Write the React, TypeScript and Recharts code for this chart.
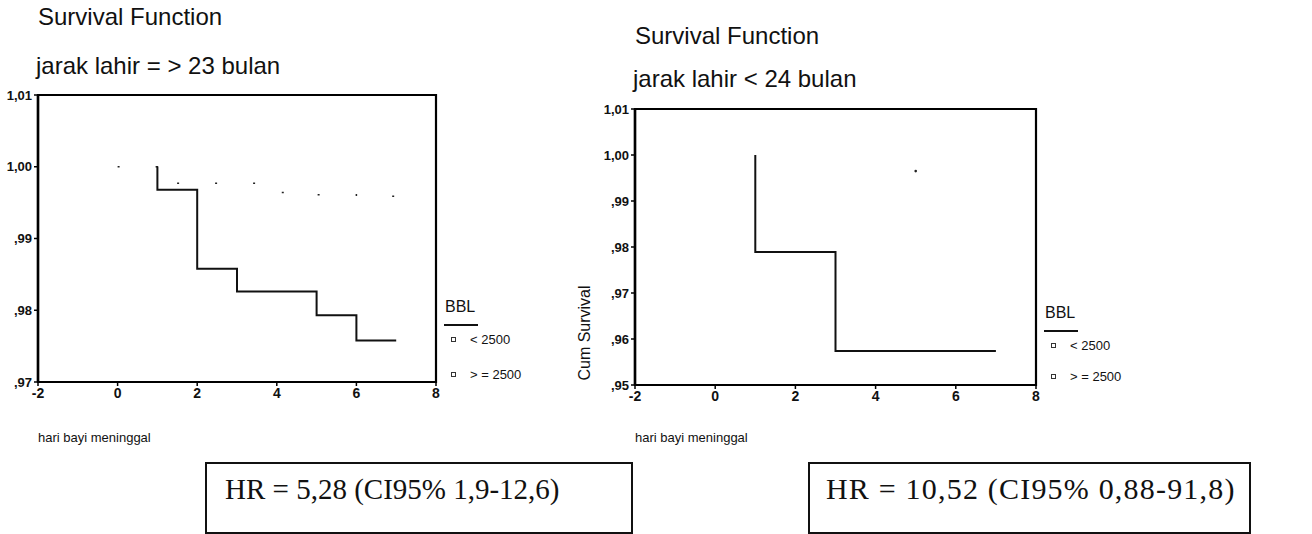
import React from "react";
import { ComposedChart, Line, XAxis, YAxis, ReferenceArea } from "recharts";

// shared x axis (hari)
const xTicks = [-2, 0, 2, 4, 6, 8];

// jarak lahir = > 23 bulan
const leftYTicks = [0.97, 0.98, 0.99, 1.0, 1.01];
const leftLowTime = [1, 1, 2, 3, 5, 6, 7];
const leftLowSurv = [1.0, 0.9968, 0.9858, 0.9826, 0.9793, 0.9758, 0.9758];
const leftHighTime = [0, 1, 4, 5, 6, 7];
const leftHighSurv = [1.0, 0.9977, 0.9964, 0.9961, 0.9959, 0.9957];

// jarak lahir < 24 bulan
const rightYTicks = [0.95, 0.96, 0.97, 0.98, 0.99, 1.0, 1.01];
const rightLowTime = [1, 1, 3, 7];
const rightLowSurv = [1.0, 0.9789, 0.9574, 0.9574];
const rightHighTime = [5];
const rightHighSurv = [0.9965];

const groups = ["< 2500", "> = 2500"];

const sans = '"Liberation Sans", Arial, sans-serif';
const serif = '"Liberation Serif", "Times New Roman", serif';

const toRows = (t: number[], s: number[]) => t.map((v, i) => ({ t: v, s: s[i] }));

const fmtY = (v: number) => {
  const s = v.toFixed(2).replace(".", ",");
  return s.startsWith("0") ? s.slice(1) : s;
};

function CumLabel(props: any) {
  const vb = props.viewBox || { x: 0, y: 19, width: 75, height: 276 };
  const cx = vb.x + 24;
  const cy = vb.y + vb.height / 2 + 86;
  return (
    <text
      x={cx}
      y={cy}
      transform={`rotate(-90 ${cx} ${cy})`}
      textAnchor="middle"
      dominantBaseline="central"
      fontSize={16}
      fontFamily={sans}
      fill="#111"
    >
      Cum Survival
    </text>
  );
}

type PlotProps = {
  width: number;
  height: number;
  margin: { top: number; right: number; bottom: number; left: number };
  yWidth: number;
  yTicks: number[];
  low: { t: number; s: number }[];
  high: { t: number; s: number }[];
  yLabel?: boolean;
};

function SurvivalPlot({ width, height, margin, yWidth, yTicks, low, high, yLabel }: PlotProps) {
  const yMin = yTicks[0];
  const yMax = yTicks[yTicks.length - 1];
  return (
    <ComposedChart width={width} height={height} margin={margin}>
      <XAxis
        type="number"
        dataKey="t"
        domain={[-2, 8]}
        ticks={xTicks}
        allowDataOverflow
        height={25}
        tickSize={4}
        tickLine={{ stroke: "#000", strokeWidth: 1.5 }}
        axisLine={{ stroke: "#000", strokeWidth: 2 }}
        tick={{ fontSize: 14, fontWeight: 700, fill: "#111", fontFamily: sans }}
      />
      <YAxis
        type="number"
        domain={[yMin, yMax]}
        ticks={yTicks}
        allowDataOverflow
        width={yWidth}
        tickSize={4}
        tickFormatter={fmtY}
        tickLine={{ stroke: "#000", strokeWidth: 1.5 }}
        axisLine={{ stroke: "#000", strokeWidth: 2.5 }}
        tick={{ fontSize: 13, fontWeight: 700, fill: "#111", fontFamily: sans }}
        label={yLabel ? <CumLabel /> : undefined}
      />
      <ReferenceArea x1={-2} x2={8} y1={yMin} y2={yMax} fill="none" stroke="#000" strokeWidth={2.2} />
      <Line
        data={high}
        dataKey="s"
        type="stepAfter"
        stroke={high.length > 1 ? "#222" : "none"}
        strokeWidth={1.5}
        strokeDasharray="2 36"
        dot={high.length > 1 ? false : { r: 1.3, fill: "#222", stroke: "none" }}
        isAnimationActive={false}
      />
      <Line
        data={low}
        dataKey="s"
        type="stepAfter"
        stroke="#111"
        strokeWidth={2}
        dot={false}
        isAnimationActive={false}
      />
    </ComposedChart>
  );
}

const abs = (left: number, top: number, extra: React.CSSProperties = {}): React.CSSProperties => ({
  position: "absolute",
  left,
  top,
  whiteSpace: "nowrap",
  ...extra,
});

function Legend({ left, top, gap }: { left: number; top: number; gap: number }) {
  return (
    <>
      <div style={abs(left, top, { fontSize: 16, lineHeight: "16px", fontFamily: sans, color: "#111" })}>BBL</div>
      <div style={abs(left - 1, top + 25, { width: 34, height: 2, background: "#111" })} />
      {groups.map((g, i) => (
        <React.Fragment key={g}>
          <div
            style={abs(left + 6, top + 38 + i * gap, {
              width: 5,
              height: 5,
              border: "1px solid #333",
              boxSizing: "border-box",
            })}
          />
          <div style={abs(left + 25, top + 34 + i * gap, { fontSize: 13, lineHeight: "13px", fontFamily: sans, color: "#111" })}>
            {g}
          </div>
        </React.Fragment>
      ))}
    </>
  );
}

const titleStyle: React.CSSProperties = { fontSize: 24, lineHeight: "24px", fontFamily: sans, color: "#111" };
const xTitleStyle: React.CSSProperties = { fontSize: 13, lineHeight: "13px", fontFamily: sans, color: "#111" };
const hrStyle: React.CSSProperties = { fontSize: 29, lineHeight: "29px", fontFamily: serif, color: "#111" };

export default function App() {
  return (
    <div style={{ position: "absolute", left: 0, top: 0, width: 1312, height: 534, background: "#fff", overflow: "hidden" }}>
      <div style={abs(0, 80)}>
        <SurvivalPlot
          width={560}
          height={330}
          margin={{ top: 15, right: 124, bottom: 3, left: 0 }}
          yWidth={38}
          yTicks={leftYTicks}
          low={toRows(leftLowTime, leftLowSurv)}
          high={toRows(leftHighTime, leftHighSurv)}
        />
      </div>
      <div style={abs(560, 90)}>
        <SurvivalPlot
          width={752}
          height={325}
          margin={{ top: 19, right: 276, bottom: 5, left: 0 }}
          yWidth={75}
          yTicks={rightYTicks}
          low={toRows(rightLowTime, rightLowSurv)}
          high={toRows(rightHighTime, rightHighSurv)}
          yLabel
        />
      </div>

      <div style={abs(38, 5, titleStyle)}>Survival Function</div>
      <div style={abs(36, 54, titleStyle)}>jarak lahir = &gt; 23 bulan</div>
      <div style={abs(635, 24, titleStyle)}>Survival Function</div>
      <div style={abs(633, 67, titleStyle)}>jarak lahir &lt; 24 bulan</div>

      <div style={abs(38, 431, xTitleStyle)}>hari bayi meninggal</div>
      <div style={abs(635, 431, xTitleStyle)}>hari bayi meninggal</div>

      <Legend left={445} top={299} gap={35} />
      <Legend left={1045} top={305} gap={31} />

      <div style={abs(205, 462, { width: 428, height: 72, border: "2px solid #111", boxSizing: "border-box" })} />
      <div style={abs(225, 475, hrStyle)}>HR = 5,28 (CI95% 1,9-12,6)</div>
      <div style={abs(808, 462, { width: 443, height: 72, border: "2px solid #111", boxSizing: "border-box" })} />
      <div style={abs(826, 474, { ...hrStyle, fontSize: 30, letterSpacing: 1.2 })}>HR = 10,52 (CI95% 0,88-91,8)</div>
    </div>
  );
}
